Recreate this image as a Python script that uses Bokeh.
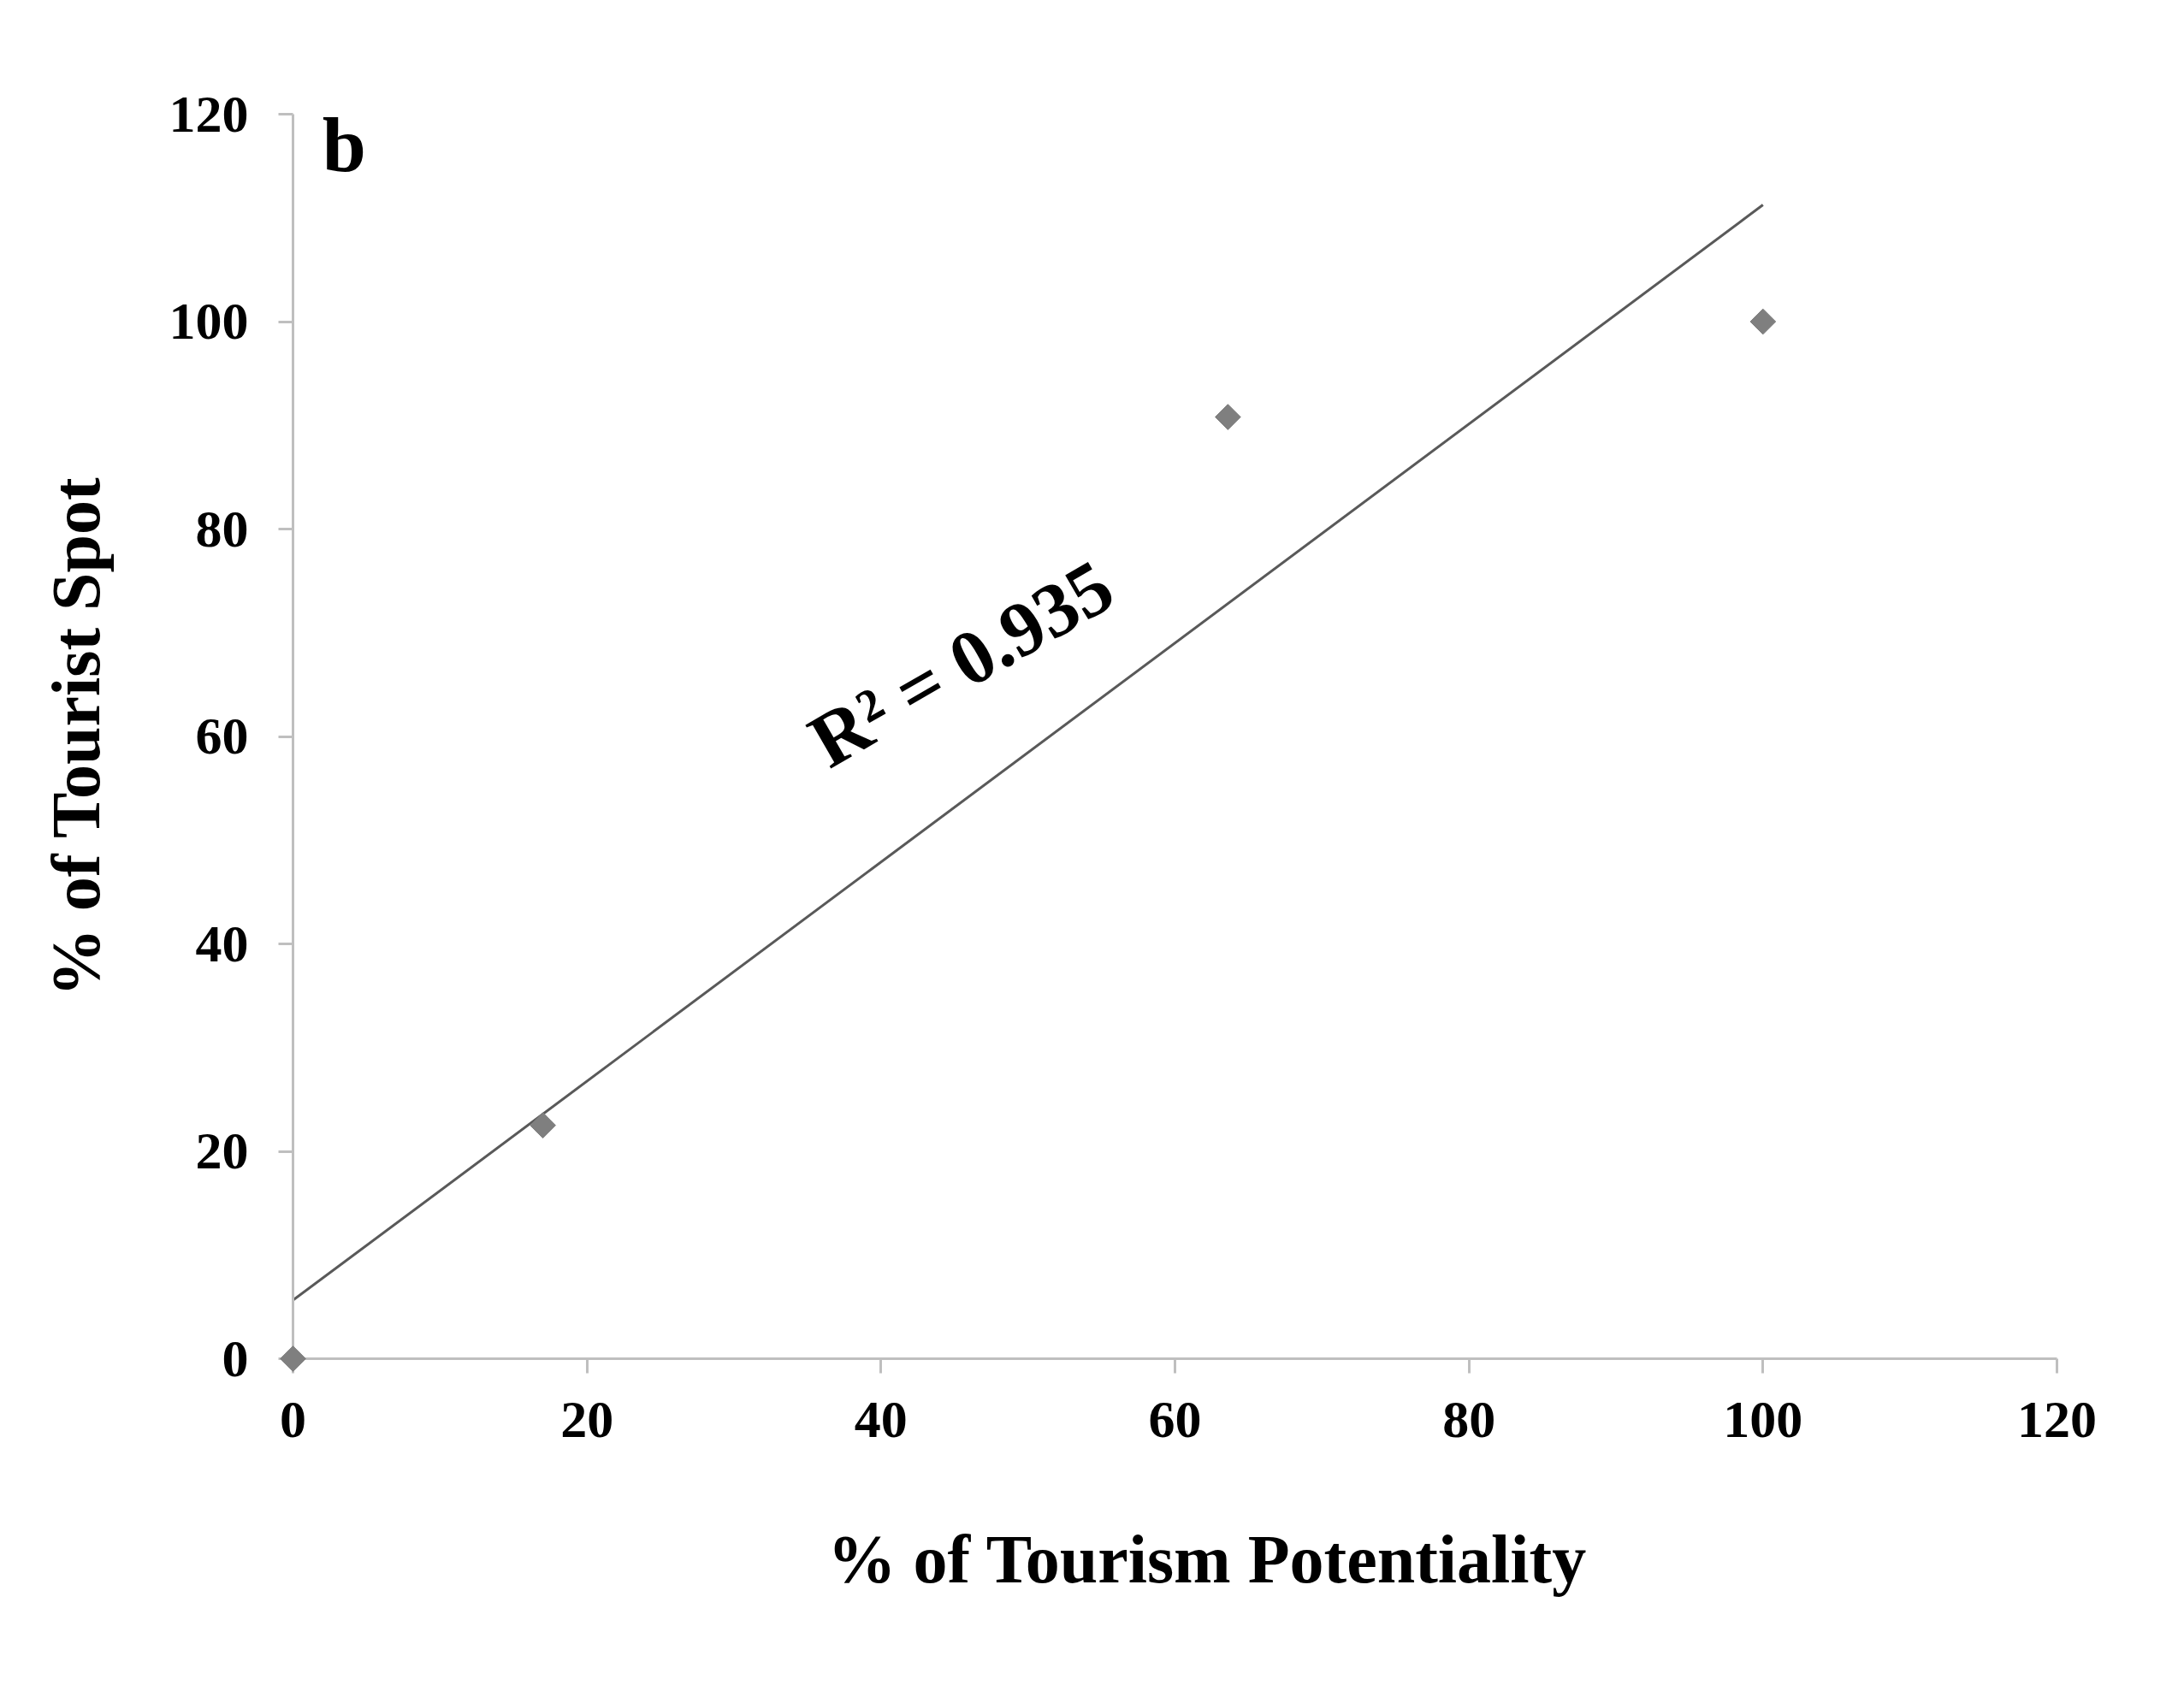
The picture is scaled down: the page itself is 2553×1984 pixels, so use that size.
import numpy as np
from bokeh.plotting import figure
from bokeh.models import Range1d, FixedTicker, Title
from bokeh.core.properties import value
from bokeh.embed import file_html
from bokeh.resources import INLINE

# ---- data ----
tourism_potentiality = [0.0, 17.0, 63.6, 100.0]   # % of Tourism Potentiality (x)
tourist_spot = [0.0, 22.5, 90.8, 100.0]           # % of Tourist Spot (y)
tick_values = [0, 20, 40, 60, 80, 100, 120]
r2_text = "R\u00b2 = 0.935"
panel_letter = "b"
x_title = "% of Tourism Potentiality"
y_title = "% of Tourist Spot"

# linear trendline (least squares) over the data range
slope, intercept = np.polyfit(tourism_potentiality, tourist_spot, 1)
trend_x = [min(tourism_potentiality), max(tourism_potentiality)]
trend_y = [slope * v + intercept for v in trend_x]

FONT = "Liberation Serif"

p = figure(
    output_backend="svg", toolbar_location=None,
    frame_width=2062, frame_height=1455,
    min_border_left=342, min_border_top=133,
    min_border_right=132, min_border_bottom=378,
    x_range=Range1d(0, 120), y_range=Range1d(0, 120),
    background_fill_color="white", border_fill_color="white",
)
p.outline_line_color = None
p.grid.visible = False

for ax in (p.xaxis[0], p.yaxis[0]):
    ax.ticker = FixedTicker(ticks=tick_values)
    ax.axis_line_color = "#bfbfbf"
    ax.axis_line_width = 3
    ax.major_tick_line_color = "#bfbfbf"
    ax.major_tick_line_width = 3
    ax.major_tick_in = 0
    ax.major_tick_out = 17
    ax.minor_tick_line_color = None
    ax.major_label_text_font = FONT
    ax.major_label_text_font_style = "bold"
    ax.major_label_text_font_size = "62px"
    ax.major_label_text_color = "black"

p.xaxis.major_label_standoff = 34
p.yaxis.major_label_standoff = 35

p.yaxis.axis_label = y_title
p.yaxis.axis_label_text_font = FONT
p.yaxis.axis_label_text_font_style = "bold"
p.yaxis.axis_label_text_font_size = "80px"
p.yaxis.axis_label_text_color = "black"
p.yaxis.axis_label_standoff = 62

# x axis title, placed below the axis
p.add_layout(Title(text=x_title, align="left", offset=625, standoff=188,
                   text_font=FONT, text_font_style="bold",
                   text_font_size="80px", text_color="black"), "below")

# trendline
p.line(trend_x, trend_y, line_color="#595959", line_width=3)

# data points
pts = p.scatter(tourism_potentiality, tourist_spot, marker="square", angle=np.pi / 4,
                size=21, fill_color="#7f7f7f", line_color="#7f7f7f", line_width=1)
pts.level = "overlay"

# R^2 annotation
p.text(x=[35.6], y=[59.0], text=[r2_text], angle=np.radians(30),
       text_font=value(FONT), text_font_style="bold", text_font_size="90px",
       text_color="black", text_align="left", text_baseline="alphabetic")

# panel letter
p.text(x=[2.0], y=[117.1], text=[panel_letter],
       text_font=value(FONT), text_font_style="bold", text_font_size="92px",
       text_color="black", text_align="left", text_baseline="alphabetic")

open("out.html", "w").write(file_html(p, INLINE))
